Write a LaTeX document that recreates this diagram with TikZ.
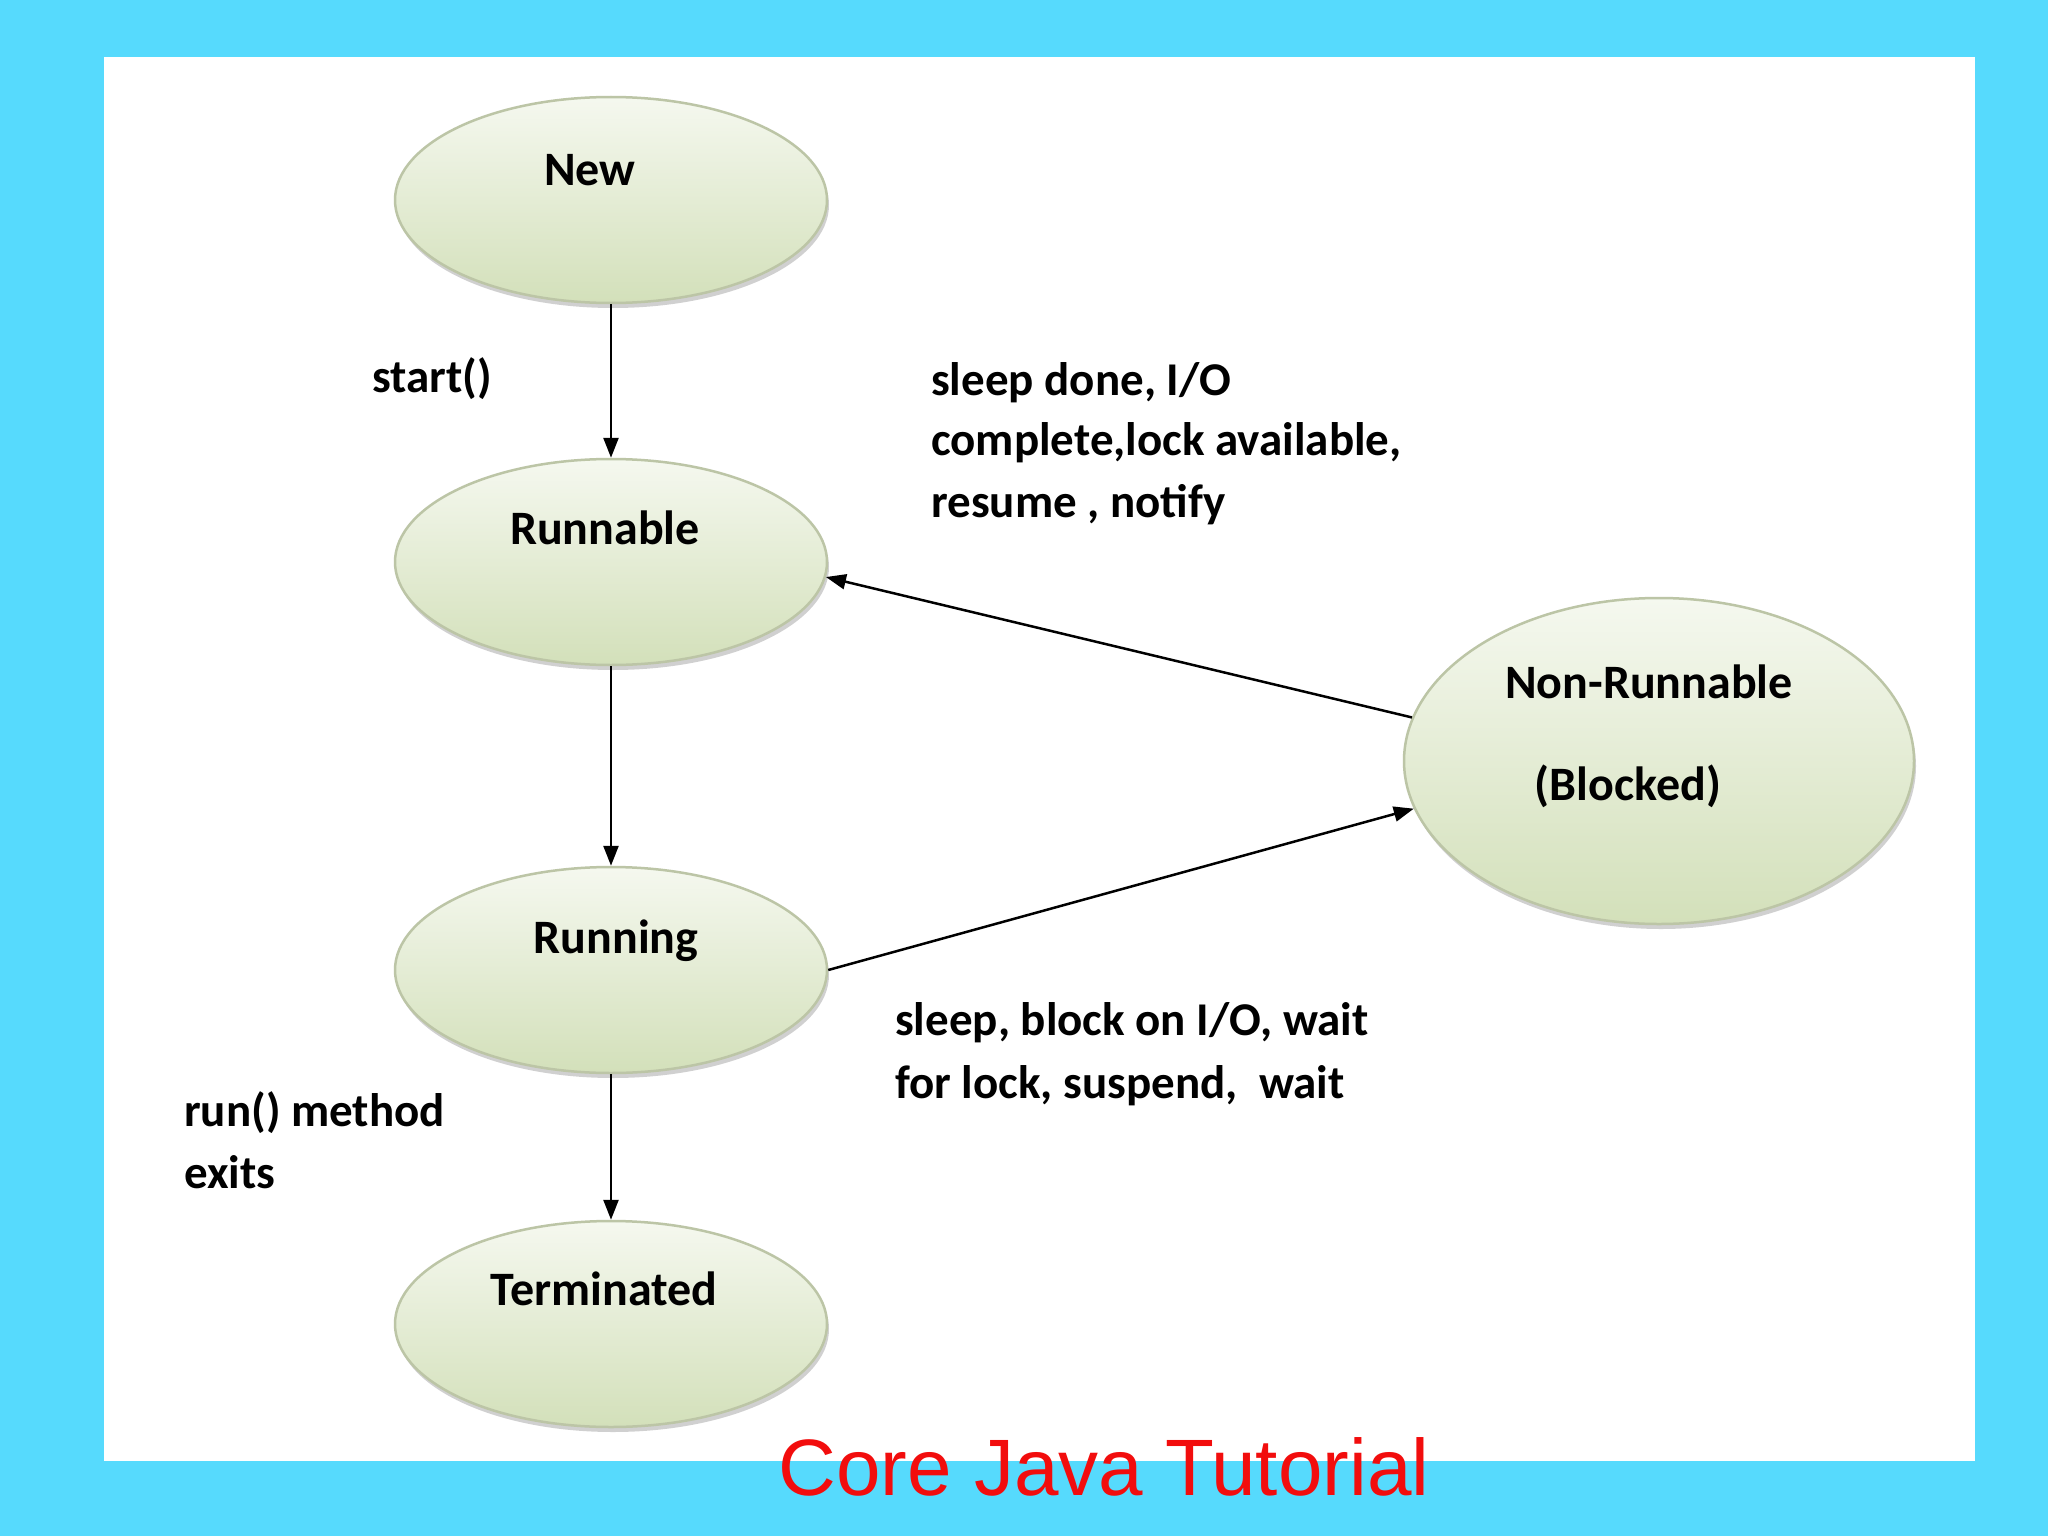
\documentclass[tikz,border=0pt]{standalone}
\usepackage{fontspec}
\setmainfont{Carlito}
\newfontfamily\titlefont{Liberation Sans}
\usetikzlibrary{shapes.geometric,arrows.meta,shadows}
\definecolor{bgcyan}{HTML}{56DAFD}
\definecolor{elltop}{HTML}{F5F8EF}
\definecolor{ellbot}{HTML}{D3E0BA}
\definecolor{ellline}{HTML}{BCC5A6}
\definecolor{titlered}{HTML}{F20D0D}
\tikzset{
  stbox/.style={ellipse, draw=ellline, line width=2.5pt, top color=elltop, bottom color=ellbot,
    minimum width=432pt, minimum height=206pt, inner sep=0pt,
    drop shadow={shadow xshift=2pt, shadow yshift=-5pt, opacity=0.3, fill=black!60}},
  bigstbox/.style={stbox, minimum width=510pt, minimum height=326pt},
  sttext/.style={font=\bfseries\fontsize{48}{58}\selectfont, anchor=base, inner sep=0pt},
  lbl/.style={font=\bfseries\fontsize{47}{58}\selectfont, anchor=base west, inner sep=0pt},
  arr/.style={line width=2.5pt, -{Triangle[length=20pt,width=15pt]}},
}
\begin{document}
\begin{tikzpicture}[x=1pt,y=-1pt]
\useasboundingbox (0,0) rectangle (2048,1536);
\fill[bgcyan] (0,0) rectangle (2048,1536);
\fill[white] (104,57) rectangle (1975,1461);

\node[stbox] (new) at (611,200) {};
\node[stbox] (runnable) at (611,562) {};
\node[stbox] (running) at (611,970) {};
\node[stbox] (terminated) at (611,1324) {};
\node[bigstbox] (nonrun) at (1659,761) {};

\node[sttext] (tnew) at (590,185) {New};
\node[sttext] (trunnable) at (605,544) {Runnable};
\node[sttext] (trunning) at (616,953) {Running};
\node[sttext] (tterm) at (604,1305) {Terminated};
\node[sttext] (tnon1) at (1649,698) {Non-Runnable};
\node[sttext] (tnon2) at (1628,800) {(Blocked)};

\draw[arr] (new.south) -- (runnable.north);
\draw[arr] (runnable.south) -- (running.north);
\draw[arr] (running.south) -- (terminated.north);
\draw[arr] (nonrun.170) -- (runnable.-4);
\draw[arr] (running.east) -- (nonrun.191);

\node[lbl] (l1) at (372,392) {start()};
\node[lbl] (l2a) at (931,395) {sleep done, I/O};
\node[lbl] (l2b) at (931,455) {complete,lock available,};
\node[lbl] (l2c) at (931,517) {resume , notify};
\node[lbl] (l3a) at (895,1035) {sleep, block on I/O, wait};
\node[lbl] (l3b) at (895,1098) {for lock, suspend,\ \ wait};
\node[lbl] (l4a) at (184,1126) {run() method};
\node[lbl] (l4b) at (184,1188) {exits};

\node[font=\titlefont\fontsize{80}{96}\selectfont, text=titlered, anchor=base, inner sep=0pt] (title) at (1104,1495) {Core Java Tutorial};
\end{tikzpicture}
\end{document}
